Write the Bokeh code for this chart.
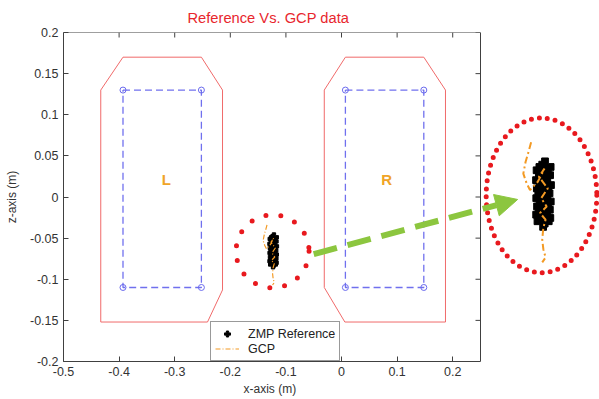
import numpy as np
from bokeh.plotting import figure
from bokeh.models import FixedTicker, Title, Arrow, NormalHead, Legend, LegendItem
from bokeh.core.properties import value
from bokeh.embed import file_html
from bokeh.resources import INLINE

# ---------------- data ----------------
x_ticks = [-0.5, -0.4, -0.3, -0.2, -0.1, 0.0, 0.1, 0.2]
x_tick_labels = ["-0.5", "-0.4", "-0.3", "-0.2", "-0.1", "0", "0.1", "0.2"]
y_ticks = [-0.2, -0.15, -0.1, -0.05, 0.0, 0.05, 0.1, 0.15, 0.2]
y_tick_labels = ["-0.2", "-0.15", "-0.1", "-0.05", "0", "0.05", "0.1", "0.15", "0.2"]
box_x = (-0.5, 0.25)
box_y = (-0.2, 0.2)

left_outer_x = [-0.393, -0.252, -0.214, -0.214, -0.241, -0.433, -0.433, -0.393]
left_outer_y = [0.17, 0.17, 0.13, -0.113, -0.152, -0.152, 0.13, 0.17]
right_outer_x = [0.007, 0.148, 0.187, 0.187, 0.006, -0.031, -0.031, 0.007]
right_outer_y = [0.17, 0.17, 0.13, -0.152, -0.152, -0.11, 0.13, 0.17]

left_rect_x = [-0.393, -0.252, -0.252, -0.393, -0.393]
left_rect_y = [0.13, 0.13, -0.11, -0.11, 0.13]
right_rect_x = [0.007, 0.148, 0.148, 0.007, 0.007]
right_rect_y = [0.13, 0.13, -0.11, -0.11, 0.13]

foot_labels = ["L", "R"]
foot_label_x = [-0.315, 0.081]
foot_label_y = [0.021, 0.021]

zmp_x = [-0.1215, -0.1240, -0.1220, -0.1245, -0.1212, -0.1238, -0.1225,
         -0.1243, -0.1214, -0.1236, -0.1222, -0.1244, -0.1218, -0.1232]
zmp_y = [-0.049, -0.051, -0.054, -0.057, -0.060, -0.062, -0.065,
         -0.068, -0.070, -0.073, -0.075, -0.078, -0.080, -0.082]

gcp_x = [-0.134, -0.136, -0.139, -0.141, -0.138, -0.135, -0.128, -0.122, -0.127, -0.119,
         -0.125, -0.120, -0.126, -0.121, -0.123, -0.124, -0.123, -0.121, -0.124]
gcp_y = [-0.034, -0.039, -0.046, -0.053, -0.059, -0.063, -0.058, -0.050, -0.055, -0.062,
         -0.068, -0.073, -0.077, -0.081, -0.086, -0.093, -0.099, -0.104, -0.107]

highlight_center = (-0.124, -0.066)
zoom_src = (-0.123, -0.063)
zoom_dst = (0.363, 0.0085)
zoom_factor = 2.0
zoom_ellipse = (0.3597, 0.002, 0.199, 0.188)
arrow_start = (-0.050, -0.0695)
arrow_end = (0.3168, -0.003)

# ---------------- figure ----------------
p = figure(width=599, height=399, x_range=(-0.5, 0.464), y_range=(-0.2, 0.2),
           output_backend="svg", toolbar_location=None,
           min_border_left=63, min_border_right=0, min_border_top=32, min_border_bottom=38)
p.outline_line_color = None
p.xgrid.visible = False
p.ygrid.visible = False
p.background_fill_color = "white"
p.border_fill_color = "white"

FONT = "Liberation Sans"
AX = "#404040"
for ax, ticks, labels, bnds in ((p.xaxis[0], x_ticks, x_tick_labels, box_x),
                                (p.yaxis[0], y_ticks, y_tick_labels, box_y)):
    ax.ticker = FixedTicker(ticks=ticks)
    ax.major_label_overrides = {t: l for t, l in zip(ticks, labels)}
    ax.bounds = bnds
    ax.major_tick_in = 5
    ax.major_tick_out = 0
    ax.minor_tick_line_color = None
    ax.axis_line_color = AX
    ax.major_tick_line_color = AX
    ax.major_label_text_font = FONT
    ax.major_label_text_font_size = "12.5px"
    ax.major_label_text_color = "#333333"
    ax.axis_label_text_font = FONT
    ax.axis_label_text_font_size = "12px"
    ax.axis_label_text_font_style = "normal"
    ax.axis_label_text_color = "#333333"
p.yaxis[0].axis_label = "z-axis (m)"
p.xaxis[0].major_label_standoff = 5
p.yaxis[0].major_label_standoff = 5
p.yaxis[0].axis_label_standoff = 8

# x-axis label centred under the axes box
p.add_layout(Title(text="x-axis (m)", align="left", offset=180,
                   text_color="#333333", text_font=FONT, text_font_size="12px",
                   text_font_style="normal", standoff=2), "below")

# top and right borders with inward ticks
p.segment(x0=[box_x[0], box_x[1]], y0=[box_y[1], box_y[0]],
          x1=[box_x[1], box_x[1]], y1=[box_y[1], box_y[1]], line_color=AX, line_width=1)
tlx = 5 / 556.0
tly = 5 / 822.5
p.segment(x0=x_ticks, y0=[box_y[1]] * len(x_ticks), x1=x_ticks,
          y1=[box_y[1] - tly] * len(x_ticks), line_color=AX, line_width=1)
p.segment(x0=[box_x[1]] * len(y_ticks), y0=y_ticks, x1=[box_x[1] - tlx] * len(y_ticks),
          y1=y_ticks, line_color=AX, line_width=1)

# feet
for ox, oy in ((left_outer_x, left_outer_y), (right_outer_x, right_outer_y)):
    p.line(ox, oy, line_color="#f06a6a", line_width=1)
for rx, ry in ((left_rect_x, left_rect_y), (right_rect_x, right_rect_y)):
    p.line(rx, ry, line_color="#7070ee", line_width=1.3, line_dash="7 4")
    p.scatter(rx[:4], ry[:4], marker="circle", size=6, fill_color=None,
              line_color="#6a6aee", line_width=1)
p.text(foot_label_x, foot_label_y, text=foot_labels, text_color="#f0a428",
       text_font=value(FONT), text_font_size="15px", text_font_style="bold",
       text_align="center", text_baseline="middle")

# highlight circle (dotted)
p.scatter([highlight_center[0]], [highlight_center[1]], marker="circle", size=73,
          fill_color=None, line_color="#e8191e", line_width=5, line_dash="0 15",
          line_cap="round")

# small ZMP / GCP
zmp_small = p.scatter(zmp_x, zmp_y, marker="plus", size=9, fill_color="black",
                      line_color="black")
gcp_small = p.line(gcp_x, gcp_y, line_color="#f39a24", line_width=1.2,
                   line_dash="5 2 1 2")

# arrow
p.add_layout(Arrow(x_start=arrow_start[0], y_start=arrow_start[1],
                   x_end=arrow_end[0], y_end=arrow_end[1],
                   line_color="#8cc63f", line_width=6, line_dash="24 11",
                   end=NormalHead(size=22, fill_color="#8cc63f", line_color="#8cc63f")))

# magnified view
zx = zoom_dst[0] + zoom_factor * (np.array(zmp_x) - zoom_src[0])
zy = zoom_dst[1] + zoom_factor * (np.array(zmp_y) - zoom_src[1])
gx = zoom_dst[0] + zoom_factor * (np.array(gcp_x) - zoom_src[0])
gy = zoom_dst[1] + zoom_factor * (np.array(gcp_y) - zoom_src[1])
p.ellipse(x=[zoom_ellipse[0]], y=[zoom_ellipse[1]], width=zoom_ellipse[2],
          height=zoom_ellipse[3], fill_color=None, line_color="#e8191e",
          line_width=5, line_dash="0 8", line_cap="round")
p.scatter(zx, zy, marker="plus", size=18, fill_color="black", line_color="black")
p.line(gx, gy, line_color="#f39a24", line_width=2, line_dash="7 3 2 3")

# legend
legend = Legend(items=[LegendItem(label="ZMP Reference", renderers=[zmp_small]),
                       LegendItem(label="GCP", renderers=[gcp_small])],
                location=(147, 0), border_line_color="#333333", border_line_width=1,
                background_fill_color="white", background_fill_alpha=1,
                label_text_font=FONT, label_text_font_size="12.5px",
                label_text_color="#222222",
                padding=4, spacing=0, margin=0, glyph_width=24, glyph_height=15,
                label_height=15, label_standoff=9)
p.add_layout(legend)

# title
p.add_layout(Title(text="Reference Vs. GCP data", align="left", offset=124,
                   text_color="#e8262d", text_font=FONT, text_font_size="14.7px",
                   text_font_style="normal", standoff=13), "above")

open("out.html", "w").write(file_html(p, INLINE))
